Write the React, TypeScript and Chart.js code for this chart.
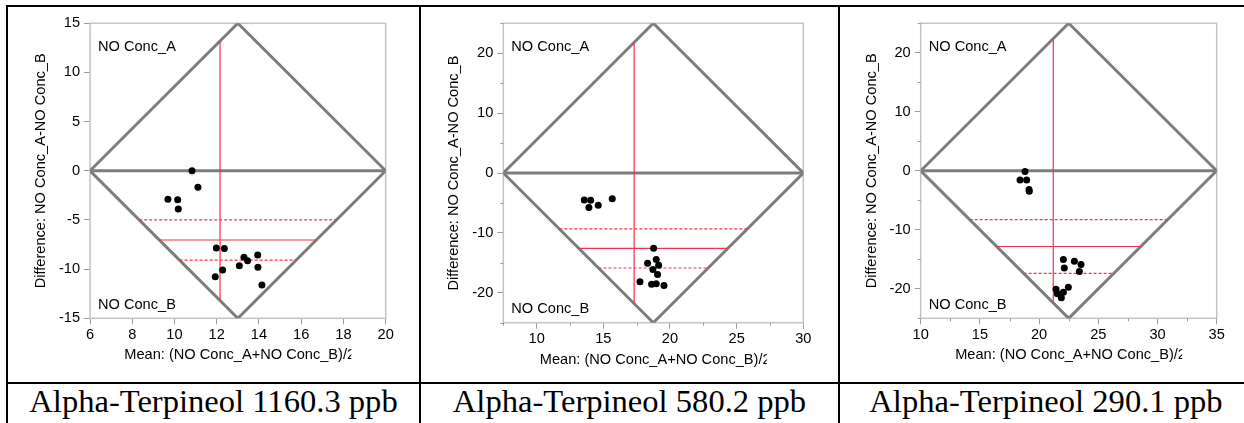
import React, { useEffect, useRef } from "react";
import { Chart, registerables } from "chart.js";

Chart.register(...registerables);

// ---- data -------------------------------------------------------------
const CAPTIONS = [
  "Alpha-Terpineol 1160.3 ppb",
  "Alpha-Terpineol 580.2 ppb",
  "Alpha-Terpineol 290.1 ppb",
];

const X_TITLE = "Mean: (NO Conc_A+NO Conc_B)/2";
const Y_TITLE = "Difference: NO Conc_A-NO Conc_B";
const TOP_LABEL = "NO Conc_A";
const BOTTOM_LABEL = "NO Conc_B";

// 1160.3 ppb
const MEAN_1160 = [10.83, 11.11, 9.69, 10.15, 10.18, 11.98, 12.36, 13.29, 13.46, 13.94, 13.07, 13.95, 12.28, 11.93, 14.14];
const DIFF_1160 = [0.0, -1.68, -2.9, -2.94, -3.89, -7.85, -7.89, -8.8, -9.14, -8.56, -9.65, -9.82, -10.09, -10.77, -11.61];
const X_RANGE_1160 = [6, 20];
const Y_RANGE_1160 = [-15, 15];
const X_TICKS_1160 = [6, 8, 10, 12, 14, 16, 18, 20];
const Y_TICKS_1160 = [-15, -10, -5, 0, 5, 10, 15];
const X_MINOR_1160: number[] = [];
const Y_MINOR_1160: number[] = [];

// 580.2 ppb
const MEAN_580 = [13.57, 14.05, 13.92, 14.62, 15.67, 18.77, 18.97, 18.32, 19.15, 18.72, 19.07, 17.75, 18.62, 18.97, 19.55];
const DIFF_580 = [-4.5, -4.56, -5.78, -5.39, -4.28, -12.56, -14.45, -15.06, -15.39, -16.12, -16.95, -18.17, -18.56, -18.5, -18.78];
const X_RANGE_580 = [7.5, 30];
const Y_RANGE_580 = [-25, 25];
const X_TICKS_580 = [10, 15, 20, 25, 30];
const Y_TICKS_580 = [-20, -10, 0, 10, 20];
const X_MINOR_580 = [7.5, 12.5, 17.5, 22.5, 27.5];
const Y_MINOR_580 = [-25, -15, -5, 5, 15, 25];

// 290.1 ppb
const MEAN_290 = [18.81, 18.39, 18.95, 19.15, 19.17, 22.05, 22.13, 22.98, 23.54, 23.4, 21.43, 21.54, 22.05, 21.88, 22.47];
const DIFF_290 = [-0.11, -1.58, -1.58, -3.17, -3.46, -15.02, -16.46, -15.33, -15.87, -17.08, -20.06, -20.86, -20.57, -21.53, -19.73];
const X_RANGE_290 = [10, 35];
const Y_RANGE_290 = [-25, 25];
const X_TICKS_290 = [10, 15, 20, 25, 30, 35];
const Y_TICKS_290 = [-20, -10, 0, 10, 20];
const X_MINOR_290 = [12.5, 17.5, 22.5, 27.5, 32.5];
const Y_MINOR_290 = [-25, -15, -5, 5, 15, 25];

// two-sided 95% Student t critical values by degrees of freedom
const T_CRIT_975: Record<number, number> = { 14: 2.1448 };

// ---- layout ---------------------------------------------------------------
const CANVAS_TOP = 7;
const CANVAS_H = 375;

type Area = { left: number; top: number; right: number; bottom: number };
type PanelSpec = {
  caption: string;
  means: number[];
  diffs: number[];
  xRange: number[];
  yRange: number[];
  xTicks: number[];
  yTicks: number[];
  xMinor: number[];
  yMinor: number[];
  cellLeft: number;
  cellWidth: number;
  captionWidth: number;
  area: Area;
};

const PANELS: PanelSpec[] = [
  {
    caption: CAPTIONS[0], means: MEAN_1160, diffs: DIFF_1160,
    xRange: X_RANGE_1160, yRange: Y_RANGE_1160, xTicks: X_TICKS_1160, yTicks: Y_TICKS_1160,
    xMinor: X_MINOR_1160, yMinor: Y_MINOR_1160,
    cellLeft: 8, cellWidth: 411, captionWidth: 411,
    area: { left: 82, top: 16.3, right: 377.7, bottom: 311.3 },
  },
  {
    caption: CAPTIONS[1], means: MEAN_580, diffs: DIFF_580,
    xRange: X_RANGE_580, yRange: Y_RANGE_580, xTicks: X_TICKS_580, yTicks: Y_TICKS_580,
    xMinor: X_MINOR_580, yMinor: Y_MINOR_580,
    cellLeft: 421, cellWidth: 417, captionWidth: 417,
    area: { left: 82.3, top: 16.3, right: 382.3, bottom: 315.7 },
  },
  {
    caption: CAPTIONS[2], means: MEAN_290, diffs: DIFF_290,
    xRange: X_RANGE_290, yRange: Y_RANGE_290, xTicks: X_TICKS_290, yTicks: Y_TICKS_290,
    xMinor: X_MINOR_290, yMinor: Y_MINOR_290,
    cellLeft: 840, cellWidth: 404, captionWidth: 412,
    area: { left: 80.7, top: 16.3, right: 376.7, bottom: 311.3 },
  },
];

const SANS = '"Liberation Sans", Arial, Helvetica, sans-serif';
const SERIF = '"Liberation Serif", "Times New Roman", serif';
const FONT_PX = 14.6;
const DIAMOND_GRAY = "#7d7d7d";
const FRAME_GRAY = "#c4c4c4";
const TICK_GRAY = "#9a9a9a";
const RED = "#f2334f";

function summary(xs: number[], ys: number[]) {
  const n = ys.length;
  const meanX = xs.reduce((a, b) => a + b, 0) / n;
  const meanY = ys.reduce((a, b) => a + b, 0) / n;
  const sd = Math.sqrt(ys.reduce((a, b) => a + (b - meanY) ** 2, 0) / (n - 1));
  const half = (T_CRIT_975[n - 1] ?? 2.145) * sd / Math.sqrt(n);
  return { meanX, meanY, lower: meanY - half, upper: meanY + half };
}

function buildConfig(spec: PanelSpec, canvasW: number): any {
  const [xmin, xmax] = spec.xRange;
  const [ymin, ymax] = spec.yRange;
  const mid = (xmin + xmax) / 2;
  const hw = (xmax - xmin) / 2;
  const s = summary(spec.means, spec.diffs);

  // horizontal segment at difference c, bounded by the diamond's sides
  const across = (c: number) => {
    const inset = (hw * Math.abs(c)) / ymax;
    return [{ x: xmin + inset, y: c }, { x: xmax - inset, y: c }];
  };
  const vExtent = ymax * (1 - Math.abs(s.meanX - mid) / hw);

  const line = (data: any[], color: string, width: number, dash: number[] = []) => ({
    type: "scatter",
    data,
    showLine: true,
    borderColor: color,
    borderWidth: width,
    borderDash: dash,
    pointRadius: 0,
    pointHoverRadius: 0,
    fill: false,
    tension: 0,
  });

  const area = spec.area;
  const font = { family: SANS, size: FONT_PX };

  const overlay = {
    id: "diffOverlay",
    beforeDatasetsDraw(chart: any) {
      const { ctx, chartArea: ca, scales } = chart;
      ctx.save();
      ctx.strokeStyle = FRAME_GRAY;
      ctx.lineWidth = 1.5;
      ctx.strokeRect(ca.left, ca.top, ca.right - ca.left, ca.bottom - ca.top);
      ctx.strokeStyle = TICK_GRAY;
      ctx.lineWidth = 1;
      ctx.beginPath();
      for (const v of spec.xMinor) {
        const px = Math.round(scales.x.getPixelForValue(v)) + 0.5;
        ctx.moveTo(px, ca.bottom);
        ctx.lineTo(px, ca.bottom + 3);
      }
      for (const v of spec.yMinor) {
        const py = Math.round(scales.y.getPixelForValue(v)) + 0.5;
        ctx.moveTo(ca.left - 3, py);
        ctx.lineTo(ca.left, py);
      }
      ctx.stroke();
      ctx.restore();
    },
    afterDraw(chart: any) {
      const { ctx, chartArea: ca } = chart;
      ctx.save();
      ctx.fillStyle = "#000";
      ctx.font = `${FONT_PX}px ${SANS}`;
      ctx.textBaseline = "middle";
      ctx.textAlign = "left";
      ctx.fillText(TOP_LABEL, ca.left + 8, ca.top + 23.5);
      ctx.fillText(BOTTOM_LABEL, ca.left + 8, ca.bottom - 13.5);

      // x title, clipped to a fixed-width box centred under the plot
      const cx = (ca.left + ca.right) / 2;
      const boxW = 227;
      ctx.save();
      ctx.beginPath();
      ctx.rect(cx - boxW / 2, ca.bottom + 24, boxW, 26);
      ctx.clip();
      ctx.fillText(X_TITLE, cx - boxW / 2, ca.bottom + 37);
      ctx.restore();

      // y title
      ctx.translate(ca.left - 49, (ca.top + ca.bottom) / 2);
      ctx.rotate(-Math.PI / 2);
      ctx.textAlign = "center";
      ctx.fillText(Y_TITLE, 0, 0);
      ctx.restore();
    },
  };

  return {
    type: "scatter",
    data: {
      datasets: [
        {
          data: spec.means.map((x, i) => ({ x, y: spec.diffs[i] })),
          backgroundColor: "#000",
          borderColor: "#000",
          borderWidth: 0,
          pointRadius: 3.5,
          pointHoverRadius: 3.5,
        },
        line([{ x: s.meanX, y: -vExtent }, { x: s.meanX, y: vExtent }], RED, 1.2),
        line(across(s.meanY), RED, 1.2),
        line(across(s.upper), RED, 1.2, [3, 2]),
        line(across(s.lower), RED, 1.2, [3, 2]),
        line([{ x: xmin, y: 0 }, { x: xmax, y: 0 }], DIAMOND_GRAY, 3),
        line(
          [
            { x: xmin, y: 0 },
            { x: mid, y: ymax },
            { x: xmax, y: 0 },
            { x: mid, y: ymin },
            { x: xmin, y: 0 },
          ],
          DIAMOND_GRAY,
          3
        ),
      ],
    },
    options: {
      responsive: false,
      animation: false,
      events: [],
      layout: {
        autoPadding: false,
        padding: { top: area.top, right: canvasW - area.right, left: 0, bottom: 0 },
      },
      plugins: {
        legend: { display: false },
        tooltip: { enabled: false },
        title: { display: false },
      },
      scales: {
        x: {
          type: "linear",
          min: xmin,
          max: xmax,
          afterBuildTicks: (sc: any) => {
            sc.ticks = spec.xTicks.map((v) => ({ value: v }));
          },
          afterFit: (sc: any) => {
            sc.height = CANVAS_H - area.bottom;
          },
          grid: { drawOnChartArea: false, drawTicks: true, tickLength: 6, color: TICK_GRAY },
          border: { display: false },
          ticks: {
            font,
            color: "#000",
            padding: 2,
            maxRotation: 0,
            autoSkip: false,
            callback: (v: number) => String(v),
          },
        },
        y: {
          type: "linear",
          min: ymin,
          max: ymax,
          afterBuildTicks: (sc: any) => {
            sc.ticks = spec.yTicks.map((v) => ({ value: v }));
          },
          afterFit: (sc: any) => {
            sc.width = area.left;
          },
          grid: { drawOnChartArea: false, drawTicks: true, tickLength: 6, color: TICK_GRAY },
          border: { display: false },
          ticks: {
            font,
            color: "#000",
            padding: 4,
            autoSkip: false,
            callback: (v: number) => String(v),
          },
        },
      },
    },
    plugins: [overlay],
  };
}

function DiffPlot({ spec }: { spec: PanelSpec }) {
  const ref = useRef<HTMLCanvasElement>(null);
  useEffect(() => {
    if (!ref.current) return;
    const chart = new Chart(ref.current, buildConfig(spec, spec.cellWidth));
    return () => chart.destroy();
  }, [spec]);
  return (
    <canvas
      ref={ref}
      width={spec.cellWidth}
      height={CANVAS_H}
      style={{
        position: "absolute",
        left: spec.cellLeft,
        top: CANVAS_TOP,
        width: spec.cellWidth,
        height: CANVAS_H,
      }}
    />
  );
}

const rule = (left: number, top: number, width: number, height: number): React.CSSProperties => ({
  position: "absolute",
  left,
  top,
  width,
  height,
  background: "#000",
});

export default function App() {
  return (
    <div
      style={{
        position: "absolute",
        left: 0,
        top: 0,
        width: 1244,
        height: 423,
        background: "#fff",
        overflow: "hidden",
      }}
    >
      <div style={rule(6, 5, 1238, 2)} />
      <div style={rule(6, 382, 1238, 2)} />
      <div style={rule(6, 5, 2, 418)} />
      <div style={rule(419, 5, 2, 418)} />
      <div style={rule(838, 5, 2, 418)} />
      {PANELS.map((p, i) => (
        <DiffPlot key={i} spec={p} />
      ))}
      {PANELS.map((p, i) => (
        <div
          key={"c" + i}
          style={{
            position: "absolute",
            left: p.cellLeft,
            top: 385,
            width: p.captionWidth,
            textAlign: "center",
            fontFamily: SERIF,
            fontSize: 32.6,
            lineHeight: "32px",
            color: "#000",
            whiteSpace: "nowrap",
          }}
        >
          {p.caption}
        </div>
      ))}
    </div>
  );
}
